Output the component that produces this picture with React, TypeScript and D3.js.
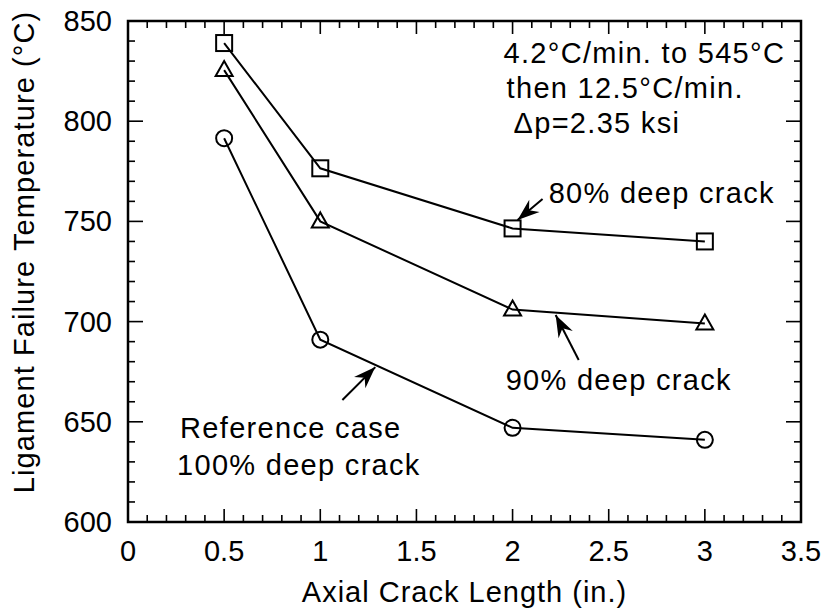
import * as d3 from "d3";

// crack lengths (in.) and failure temperatures (°C)
const crackLength = [0.5, 1, 2, 3];
const deep80 = [839, 776.5, 746.5, 740];
const deep90 = [825.5, 750, 706, 699];
const deep100 = [791.5, 691, 647, 641];

const xTickValues = [0, 0.5, 1, 1.5, 2, 2.5, 3, 3.5];
const xTickLabels = ["0", "0.5", "1", "1.5", "2", "2.5", "3", "3.5"];
const yTickValues = [600, 650, 700, 750, 800, 850];

// annotation text anchors, in data units
const noteLines = [
  { text: "4.2°C/min. to 545°C", x: 1.953, y: 829 },
  { text: "then 12.5°C/min.", x: 1.969, y: 811.6 },
  { text: "Δp=2.35 ksi", x: 2.005, y: 794.1 },
  { text: "80% deep crack", x: 2.1875, y: 759.2 },
  { text: "90% deep crack", x: 1.964, y: 665.9 },
  { text: "Reference case", x: 0.271, y: 641.9 },
  { text: "100% deep crack", x: 0.255, y: 623.4 },
];

// arrows: tail -> tip, data units
const arrows = [
  { x1: 2.156, y1: 761.2, x2: 2.026, y2: 750.7 },
  { x1: 2.344, y1: 680.8, x2: 2.224, y2: 703.3 },
  { x1: 1.115, y1: 660.9, x2: 1.286, y2: 677.3 },
];

const W = 824;
const H = 613;
const margin = { top: 21, right: 23, bottom: 91, left: 128 };
const FONT = "'Liberation Sans', Arial, Helvetica, sans-serif";

export default function App() {
  const x = d3
    .scaleLinear()
    .domain([0, 3.5])
    .range([margin.left, W - margin.right]);
  const y = d3
    .scaleLinear()
    .domain([600, 850])
    .range([H - margin.bottom, margin.top]);

  const [x0, x1] = x.range();
  const [y0, y1] = y.range();

  const line = d3
    .line<number>()
    .x((_, i) => x(crackLength[i]))
    .y((d) => y(d));

  const xMinor = d3.range(0, 36).map((i) => i / 10);
  const yMinor = d3.range(600, 851, 10);
  const majorLen = 13;
  const minorLen = 7;

  const sq = 8;
  const triangle = (cx: number, cy: number) =>
    `M${cx},${cy - 9}L${cx + 8.5},${cy + 6}L${cx - 8.5},${cy + 6}Z`;

  const arrowHead = (a: (typeof arrows)[number]) => {
    const tx = x(a.x2);
    const ty = y(a.y2);
    const ang = (Math.atan2(ty - y(a.y1), tx - x(a.x1)) * 180) / Math.PI;
    return { tx, ty, ang, d: "M0,0L-22,-8L-15,0L-22,8Z" };
  };

  return (
    <svg
      width={W}
      height={H}
      style={{ position: "absolute", left: 0, top: 0, background: "#fff" }}
      fontFamily={FONT}
    >
      {/* ticks, mirrored on all four sides */}
      <g stroke="#000" strokeWidth={1.6}>
        {xMinor.map((v) => {
          const major = Math.abs(v * 2 - Math.round(v * 2)) < 1e-6;
          const len = major ? majorLen : minorLen;
          return (
            <g key={"xt" + v}>
              <line x1={x(v)} x2={x(v)} y1={y0} y2={y0 - len} />
              <line x1={x(v)} x2={x(v)} y1={y1} y2={y1 + len} />
            </g>
          );
        })}
        {yMinor.map((v) => {
          const len = v % 50 === 0 ? majorLen + 2 : minorLen;
          return (
            <g key={"yt" + v}>
              <line x1={x0} x2={x0 + len} y1={y(v)} y2={y(v)} />
              <line x1={x1} x2={x1 - len} y1={y(v)} y2={y(v)} />
            </g>
          );
        })}
      </g>

      <rect
        x={x0}
        y={y1}
        width={x1 - x0}
        height={y0 - y1}
        fill="none"
        stroke="#000"
        strokeWidth={2.5}
      />

      {/* tick labels */}
      <g fontSize={29} fill="#000">
        {xTickValues.map((v, i) => (
          <text key={"xl" + v} x={x(v)} y={y0 + 39} textAnchor="middle">
            {xTickLabels[i]}
          </text>
        ))}
        {yTickValues.map((v) => (
          <text
            key={"yl" + v}
            x={x0 - 16}
            y={y(v)}
            textAnchor="end"
            dominantBaseline="central"
          >
            {v}
          </text>
        ))}
      </g>

      {/* axis titles */}
      <text
        x={(x0 + x1) / 2}
        y={602}
        textAnchor="middle"
        fontSize={29}
        letterSpacing={1}
      >
        Axial Crack Length (in.)
      </text>
      <text
        transform={`translate(34,${252}) rotate(-90)`}
        textAnchor="middle"
        fontSize={29}
        letterSpacing={1.1}
      >
        Ligament Failure Temperature (°C)
      </text>

      {/* series */}
      <g fill="none" stroke="#000" strokeWidth={2}>
        {[deep80, deep90, deep100].map((s, i) => (
          <path key={"s" + i} d={line(s) || ""} />
        ))}
        {deep80.map((v, i) => (
          <rect
            key={"sq" + i}
            x={x(crackLength[i]) - sq}
            y={y(v) - sq}
            width={sq * 2}
            height={sq * 2}
          />
        ))}
        {deep90.map((v, i) => (
          <path key={"tr" + i} d={triangle(x(crackLength[i]), y(v))} />
        ))}
        {deep100.map((v, i) => (
          <circle key={"ci" + i} cx={x(crackLength[i])} cy={y(v)} r={8} />
        ))}
      </g>

      {/* annotations */}
      <g fontSize={29} letterSpacing={1.3} fill="#000">
        {noteLines.map((n) => (
          <text key={n.text} x={x(n.x)} y={y(n.y)}>
            {n.text}
          </text>
        ))}
      </g>
      <g>
        {arrows.map((a, i) => {
          const h = arrowHead(a);
          return (
            <g key={"ar" + i}>
              <line
                x1={x(a.x1)}
                y1={y(a.y1)}
                x2={x(a.x2)}
                y2={y(a.y2)}
                stroke="#000"
                strokeWidth={2}
              />
              <path
                d={h.d}
                fill="#000"
                transform={`translate(${h.tx},${h.ty}) rotate(${h.ang})`}
              />
            </g>
          );
        })}
      </g>
    </svg>
  );
}
